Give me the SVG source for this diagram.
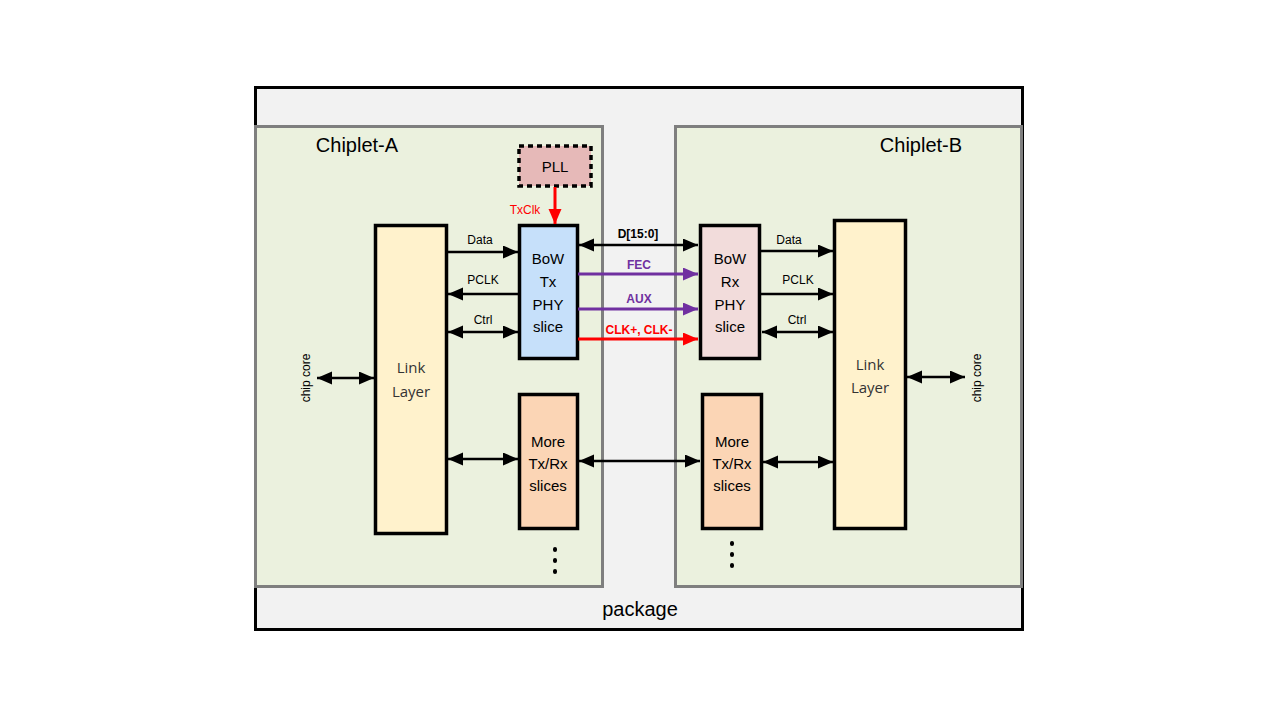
<svg xmlns="http://www.w3.org/2000/svg" width="1280" height="720" viewBox="0 0 1280 720">
<defs>
<marker id="ak" markerUnits="userSpaceOnUse" markerWidth="16" markerHeight="14" refX="15" refY="6.5" orient="auto-start-reverse"><path d="M0,0 L15,6.5 L0,13 z" fill="#000"/></marker>
<marker id="ap" markerUnits="userSpaceOnUse" markerWidth="16" markerHeight="14" refX="15" refY="6.5" orient="auto-start-reverse"><path d="M0,0 L15,6.5 L0,13 z" fill="#7030a0"/></marker>
<marker id="ar" markerUnits="userSpaceOnUse" markerWidth="16" markerHeight="14" refX="15" refY="6.5" orient="auto-start-reverse"><path d="M0,0 L15,6.5 L0,13 z" fill="#ff0000"/></marker>
</defs>
<style>
.blk{stroke:#000;stroke-width:3.5}
.t{font-family:"Liberation Sans",Arial,sans-serif;fill:#000;text-anchor:middle}
.big{font-size:20px}
.mid{font-size:15px}
.sm{font-size:12px}
.b{font-weight:bold}
.ll{font-family:"Open Sans","Liberation Sans",sans-serif;font-size:15px;fill:#333;text-anchor:middle}
.lk{stroke:#000;stroke-width:2.5;fill:none}
.lp{stroke:#7030a0;stroke-width:3;fill:none}
.lr{stroke:#ff0000;stroke-width:3;fill:none}
</style>
<rect width="1280" height="720" fill="#fff"/>
<g id="package">
<rect x="255.5" y="87.5" width="767" height="542" fill="#f2f2f2" stroke="#000" stroke-width="3"/>
<text class="t big" x="640" y="616">package</text>
</g>
<g id="chiplet-a">
<rect x="255.5" y="126.5" width="347" height="460" fill="#ebf1de" stroke="#7f7f7f" stroke-width="3"/>
<text class="t big" x="357" y="152">Chiplet-A</text>
</g>
<g id="chiplet-b">
<rect x="675.5" y="126.5" width="346" height="460" fill="#ebf1de" stroke="#7f7f7f" stroke-width="3"/>
<text class="t big" x="921" y="152">Chiplet-B</text>
</g>
<g id="pll">
<rect x="519" y="146" width="72" height="40" fill="#e6b9b8" stroke="#000" stroke-width="3.5" stroke-dasharray="5,4"/>
<text class="t mid" x="555" y="172">PLL</text>
</g>
<g id="link-a">
<rect x="375.5" y="225.5" width="71" height="308" fill="#fff2cc" class="blk"/>
<text class="ll" x="411" y="373">Link</text>
<text class="ll" x="411" y="397">Layer</text>
</g>
<g id="tx">
<rect x="519.5" y="225.5" width="58" height="133" fill="#c6e0fa" class="blk"/>
<text class="t mid" x="548" y="264">BoW</text>
<text class="t mid" x="548" y="287">Tx</text>
<text class="t mid" x="548" y="310">PHY</text>
<text class="t mid" x="548" y="332">slice</text>
</g>
<g id="more-a">
<rect x="519.5" y="394.5" width="58" height="134" fill="#fbd5b5" class="blk"/>
<text class="t mid" x="548" y="447">More</text>
<text class="t mid" x="548" y="469">Tx/Rx</text>
<text class="t mid" x="548" y="491">slices</text>
</g>
<g id="rx">
<rect x="700.5" y="225.5" width="59" height="133" fill="#f2dcdb" class="blk"/>
<text class="t mid" x="730" y="264">BoW</text>
<text class="t mid" x="730" y="287">Rx</text>
<text class="t mid" x="730" y="310">PHY</text>
<text class="t mid" x="730" y="332">slice</text>
</g>
<g id="more-b">
<rect x="702.5" y="394.5" width="59" height="134" fill="#fbd5b5" class="blk"/>
<text class="t mid" x="732" y="447">More</text>
<text class="t mid" x="732" y="469">Tx/Rx</text>
<text class="t mid" x="732" y="491">slices</text>
</g>
<g id="link-b">
<rect x="834.5" y="220.5" width="71" height="308" fill="#fff2cc" class="blk"/>
<text class="ll" x="870" y="370">Link</text>
<text class="ll" x="870" y="393">Layer</text>
</g>
<g id="core-a">
<text class="t sm" transform="translate(310,378) rotate(-90)">chip core</text>
</g>
<g id="core-b">
<text class="t sm" transform="translate(981,378) rotate(-90)">chip core</text>
</g>
<g id="connectors">
<line class="lr" x1="555" y1="187" x2="555" y2="224" marker-end="url(#ar)"/>
<text class="t sm" x="525" y="214" fill="#ff0000" style="fill:#ff0000">TxClk</text>
<line class="lk" x1="447" y1="252" x2="518" y2="252" marker-end="url(#ak)"/>
<text class="t sm" x="480" y="244">Data</text>
<line class="lk" x1="518" y1="294" x2="448" y2="294" marker-end="url(#ak)"/>
<text class="t sm" x="483" y="284">PCLK</text>
<line class="lk" x1="448" y1="332" x2="518" y2="332" marker-start="url(#ak)" marker-end="url(#ak)"/>
<text class="t sm" x="483" y="324">Ctrl</text>
<line class="lk" x1="579" y1="245" x2="698" y2="245" marker-start="url(#ak)" marker-end="url(#ak)"/>
<text class="t sm b" x="638" y="238">D[15:0]</text>
<line class="lp" x1="578" y1="274" x2="698" y2="274" marker-end="url(#ap)"/>
<text class="t sm b" x="639" y="269" style="fill:#7030a0">FEC</text>
<line class="lp" x1="578" y1="309" x2="698" y2="309" marker-end="url(#ap)"/>
<text class="t sm b" x="639" y="303" style="fill:#7030a0">AUX</text>
<line class="lr" x1="578" y1="339" x2="698" y2="339" marker-end="url(#ar)"/>
<text class="t sm b" x="639" y="334" style="fill:#ff0000">CLK+, CLK-</text>
<line class="lk" x1="760" y1="251" x2="833" y2="251" marker-end="url(#ak)"/>
<text class="t sm" x="789" y="244">Data</text>
<line class="lk" x1="760" y1="294" x2="833" y2="294" marker-end="url(#ak)"/>
<text class="t sm" x="798" y="284">PCLK</text>
<line class="lk" x1="762" y1="332" x2="833" y2="332" marker-start="url(#ak)" marker-end="url(#ak)"/>
<text class="t sm" x="797" y="324">Ctrl</text>
<line class="lk" x1="317" y1="378" x2="374" y2="378" marker-start="url(#ak)" marker-end="url(#ak)"/>
<line class="lk" x1="907" y1="377" x2="965" y2="377" marker-start="url(#ak)" marker-end="url(#ak)"/>
<line class="lk" x1="448" y1="459" x2="518" y2="459" marker-start="url(#ak)" marker-end="url(#ak)"/>
<line class="lk" x1="579" y1="461" x2="700" y2="461" marker-start="url(#ak)" marker-end="url(#ak)"/>
<line class="lk" x1="763" y1="462" x2="833" y2="462" marker-start="url(#ak)" marker-end="url(#ak)"/>
<line x1="555" y1="549" x2="555" y2="575" stroke="#000" stroke-width="4" stroke-linecap="round" stroke-dasharray="1,10"/>
<line x1="732" y1="543" x2="732" y2="569" stroke="#000" stroke-width="4" stroke-linecap="round" stroke-dasharray="1,10"/>
</g>
</svg>
